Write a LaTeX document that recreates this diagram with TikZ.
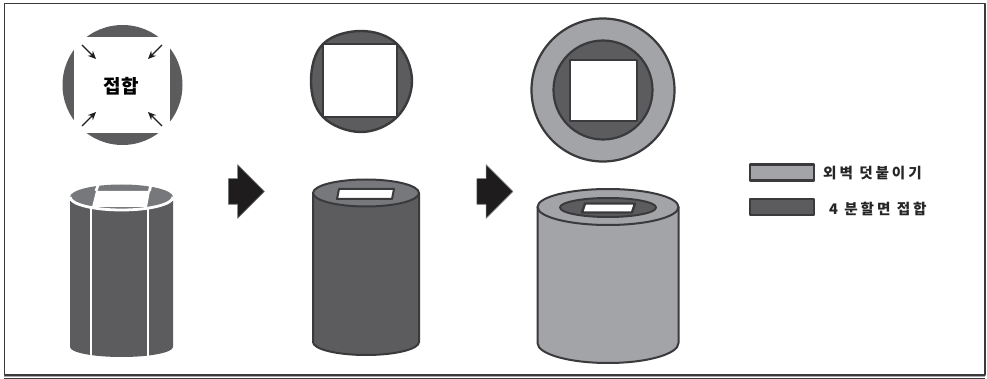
\documentclass[tikz,border=0pt]{standalone}
\usepackage{fontspec}
\newfontfamily\korfont{Noto Sans CJK KR}
\newfontfamily\korspaced[LetterSpace=20]{Noto Sans CJK KR}
\usetikzlibrary{arrows.meta, shapes.arrows}
\definecolor{cdark}{HTML}{5C5C5F}
\definecolor{cmid}{HTML}{77787B}
\definecolor{clight}{HTML}{A3A4A7}
\definecolor{cline}{HTML}{3A3A3C}
\definecolor{cblack}{HTML}{1E1C1D}
\tikzset{
  every picture/.style={x=1pt, y=-1pt, line join=round},
  solid part/.style={fill=#1, draw=cline, line width=2pt},
  hole/.style={fill=white, draw=cline, line width=2.4pt},
  gap/.style={draw=white, line width=2.8pt},
  push/.style={-{Stealth[length=8pt, width=7pt]}, draw=cblack, line width=1.4pt},
  bigarrow/.style={single arrow, fill=cblack, draw=cmid, line width=0.6pt, minimum height=36pt,
    single arrow head extend=14pt, single arrow head indent=0pt, inner xsep=0pt, inner ysep=12.5pt},
  keybox/.style={draw=cline, line width=2.6pt, minimum width=64pt, minimum height=16pt, inner sep=0pt},
  keytext/.style={font=\korspaced\bfseries\fontsize{14.6}{16}\selectfont, text=black!85, anchor=west, inner sep=0pt},
}
\begin{document}
\begin{tikzpicture}
  \useasboundingbox (0,0) rectangle (987,379);
  \draw[line width=1.2pt, draw=cline] (4.5,3.5) rectangle (985,375);
  \draw[line width=1.5pt, draw=black!35] (4,376.7) -- (985,376.7);
  \draw[line width=1.4pt, draw=cline] (4,378.4) -- (985,378.4);
  % first stage, seen from above
  \fill[cdark] (122.5,85) circle (60);
  \fill[white] (74,37) rectangle (170,133);
  \node[font=\korfont\bfseries\fontsize{19}{22}\selectfont, inner sep=0pt] (joint) at (121,86) {접합};
  \coordinate (tl0) at (82,45);  \coordinate (tl1) at (96,59);
  \coordinate (tr0) at (162,45); \coordinate (tr1) at (148,59);
  \coordinate (bl0) at (82,126); \coordinate (bl1) at (96,112);
  \coordinate (br0) at (162,126); \coordinate (br1) at (148,112);
  \foreach \a/\b in {tl0/tl1, tr0/tr1, bl0/bl1, br0/br1} \draw[push] (\a) -- (\b);
  % first stage, cylinder
  \fill[cdark] (70,197) -- (70,347) arc[start angle=180, end angle=0, x radius=51.5, y radius=10] -- (173,197)
    arc[start angle=0, end angle=180, x radius=51.5, y radius=13] -- cycle;
  \fill[cmid] (121.5,197) ellipse[x radius=51.5, y radius=12.5];
  \draw[gap] (70,197) arc[start angle=180, end angle=0, x radius=51.5, y radius=13];
  \fill[white] (96,191) -- (150,191) -- (147,207) -- (92,207) -- cycle;
  \draw[gap] (98.5,184) -- (96,191);
  \draw[gap] (151,184) -- (149.5,191);
  \draw[gap] (91,207) -- (91,358);
  \draw[gap] (148,207) -- (148,358);
  \fill[white] (60,357.5) rectangle (180,362);
  % second stage, seen from above
  \draw[solid part=cdark, line width=2.4pt] plot[smooth cycle, tension=0.64] coordinates {(361,31) (397,44) (412,81) (397,117) (361,132) (323,117) (311,81) (323,44)};
  \draw[hole] (323,44) rectangle (397,117);
  % second stage, cylinder
  \draw[solid part=cdark] (313,193) -- (313,342) arc[start angle=180, end angle=0, x radius=53, y radius=13] -- (419,193);
  \draw[solid part=cmid] (366,193) ellipse[x radius=53, y radius=13.5];
  \draw[hole, line width=2pt] (339,189) -- (394,189) -- (392,199) -- (337,199) -- cycle;
  % third stage, seen from above
  \draw[solid part=clight, line width=2.2pt] (603,90) circle (71.5);
  \draw[solid part=cdark, line width=2.2pt] (603,90) circle (49.5);
  \draw[hole] (570,60) rectangle (637,121);
  % third stage, cylinder
  \draw[solid part=clight] (537.5,207) -- (537.5,343) arc[start angle=180, end angle=0, x radius=70.5, y radius=20] -- (678.5,207);
  \draw[solid part=clight] (608,207) ellipse[x radius=70.5, y radius=18];
  \draw[solid part=cdark] (608,207.5) ellipse[x radius=48, y radius=9.5];
  \draw[hole] (585,203.5) -- (635,203.5) -- (632,212.5) -- (582,212.5) -- cycle;
  % arrows between the stages
  \node[bigarrow] (step1) at (240,191.5) {};
  \node[bigarrow] (step2) at (488.5,191.5) {};
  % key
  \node[keybox, fill=clight] (keywall) at (782,172.5) {};
  \node[keybox, fill=cdark] (keyjoint) at (782,207) {};
  \node[keytext] (walltext) at (823,173) {외벽 덧붙이기};
  \node[keytext] (jointtext) at (829,209) {4 분할면 접합};
\end{tikzpicture}
\end{document}
